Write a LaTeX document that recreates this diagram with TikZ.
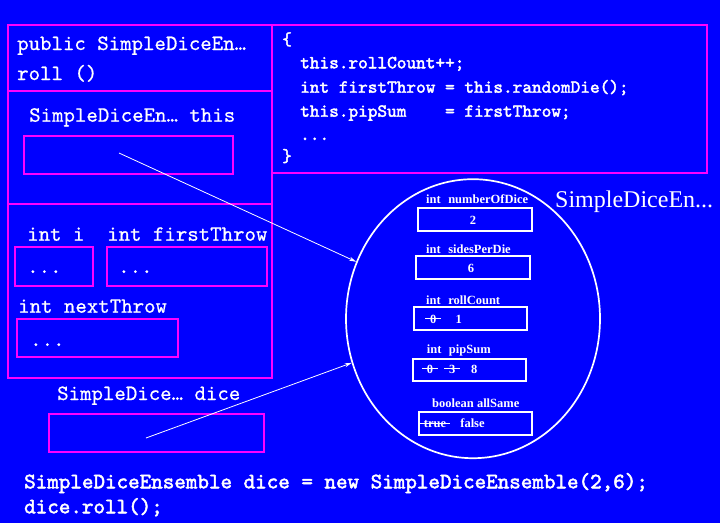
\documentclass[tikz,border=0pt]{standalone}
\usepackage{fontspec}
\newfontfamily\timesfont{Liberation Serif}
\newfontfamily\plaintt{lmmono10-regular.otf}[FakeBold=0.6]
\newfontfamily\heavytt{lmmono10-regular.otf}[FakeBold=2.2]
\usetikzlibrary{shapes.geometric,arrows.meta}

\definecolor{slideblue}{RGB}{0,0,255}
\definecolor{framepink}{RGB}{255,0,255}

\tikzset{
  frame/.style={draw=framepink, line width=2pt, inner sep=0pt, outer sep=0pt, anchor=north west},
  field/.style={draw=white, line width=1.3pt, inner sep=0pt, outer sep=0pt, anchor=north west},
  monotext/.style={text=white, inner sep=0pt, anchor=base west, font=\fontsize{21.8}{26}\plaintt},
  boldmono/.style={text=white, inner sep=0pt, anchor=base west, font=\fontsize{22}{26}\heavytt},
  codetext/.style={text=white, inner sep=0pt, anchor=base west, font=\fontsize{18.4}{22}\heavytt},
  fieldname/.style={text=white, inner sep=0pt, anchor=base west, font=\fontsize{12.5}{14}\timesfont\bfseries},
  fieldval/.style={text=white, inner sep=0pt, anchor=base, font=\fontsize{12.5}{14}\timesfont\bfseries},
  oldval/.style={fieldval, inner xsep=4.5pt},
  strike/.style={draw=white, line width=1pt},
  pointer/.style={draw=white, line width=0.8pt, -{Stealth[length=7pt,width=4pt]}}
}

\begin{document}
\begin{tikzpicture}[x=1pt, y=-1pt]
		%%%%% BACKGROUND %%%%%
		\fill[slideblue] (0,0) rectangle (720,523);
		\useasboundingbox (0,0) rectangle (720,523);
		
		%%%%% STACK FRAME %%%%%
		\node[frame, minimum width=264pt, minimum height=66pt] (head) at (8,25) {};
		\node[frame, minimum width=264pt, minimum height=113pt] (thisframe) at (8,91) {};
		\node[frame, minimum width=264pt, minimum height=174pt] (locals) at (8,204) {};
		\node[frame, minimum width=435pt, minimum height=148pt] (codebox) at (272,25) {};
		
		\node[monotext] (headline) at (17,50) {public SimpleDiceEn…};
		\node[monotext] (rollline) at (17,80) {roll ()};
		
		\node[monotext] (thislabel) at (29,121.7) {SimpleDiceEn… this};
		\node[frame, minimum width=209pt, minimum height=38pt] (thisbox) at (24,136) {};
		
		\node[monotext] (ilabel) at (27,240.7) {int i};
		\node[monotext] (firstlabel) at (107,240.7) {int firstThrow};
		\node[frame, minimum width=78pt, minimum height=39pt] (ibox) at (15,247) {};
		\node[frame, minimum width=160pt, minimum height=39pt] (firstbox) at (107,247) {};
		\node[monotext] (idots) at (27,273) {...};
		\node[monotext] (firstdots) at (118,273) {...};
		
		\node[monotext] (nextlabel) at (18,312.7) {int nextThrow};
		\node[frame, minimum width=161pt, minimum height=38pt] (nextbox) at (17,319) {};
		\node[monotext] (nextdots) at (30,346) {...};
		
		\node[monotext] (dicelabel) at (57,400) {SimpleDice… dice};
		\node[frame, minimum width=215pt, minimum height=38pt] (dicebox) at (49,414) {};
		
		%%%%% METHOD BODY %%%%%
		\node[codetext] (open) at (282,45) {\{};
		\node[codetext] (line1) at (300,68.3) {this.rollCount++;};
		\node[codetext] (line2) at (300,92.7) {int firstThrow = this.randomDie();};
		\node[codetext] (line3) at (300,116.7) {this.pipSum\ \ \ \ = firstThrow;};
		\node[codetext] (line4) at (300,140) {...};
		\node[codetext] (close) at (282,161.7) {\}};
		
		%%%%% OBJECT %%%%%
		\node[draw=white, line width=1.7pt, ellipse, minimum width=254pt, minimum height=279pt, inner sep=0pt] (obj) at (473,318.7) {};
		\node[text=white, inner sep=0pt, anchor=base west, font=\fontsize{24}{28}\timesfont] (objtype) at (555,207.3) {SimpleDiceEn...};
		
		\node[fieldname] (numlabel) at (426,203) {int\hspace{0.6em}numberOfDice};
		\node[field, minimum width=114pt, minimum height=23pt] (numbox) at (418,208) {};
		\node[fieldval] (num) at (473,224) {2};
		
		\node[fieldname] (sideslabel) at (426,253) {int\hspace{0.6em}sidesPerDie};
		\node[field, minimum width=114pt, minimum height=23pt] (sidesbox) at (416,256) {};
		\node[fieldval] (sides) at (471,272) {6};
		
		\node[fieldname] (rolllabel) at (426,304) {int\hspace{0.6em}rollCount};
		\node[field, minimum width=113pt, minimum height=23pt] (rollbox) at (414,307) {};
		\node[oldval] (roll0) at (433.3,323) {0};
		\node[fieldval] (roll1) at (458.7,323) {1};
		\draw[strike] (roll0.west) -- (roll0.east);
		
		\node[fieldname] (piplabel) at (426.7,353) {int\hspace{0.6em}pipSum};
		\node[field, minimum width=113pt, minimum height=22pt] (pipbox) at (413,359) {};
		\node[oldval] (pip0) at (430,373) {0};
		\node[oldval] (pip3) at (452.3,373) {3};
		\node[fieldval] (pip8) at (474.3,373) {8};
		\draw[strike] (pip0.west) -- (pip0.east);
		\draw[strike] (pip3.west) -- (pip3.east);
		
		\node[fieldname] (samelabel) at (432,407) {boolean allSame};
		\node[field, minimum width=113pt, minimum height=23pt] (samebox) at (419,412) {};
		\node[oldval, inner xsep=4pt] (sametrue) at (435,427) {true};
		\node[fieldval] (samefalse) at (472.5,427) {false};
		\draw[strike] (sametrue.west) -- (sametrue.east);
		
		%%%%% REFERENCES %%%%%
		\coordinate (thisref) at (119,153);
		\coordinate (diceref) at (146,438);
		\draw[pointer] (thisref) -- (obj.154);
		\draw[pointer] (diceref) -- (obj.200);
		
		%%%%% CALLER %%%%%
		\node[boldmono] (call1) at (24,488.3) {SimpleDiceEnsemble dice = new SimpleDiceEnsemble(2,6);};
		\node[boldmono] (call2) at (24,513.3) {dice.roll();};
		
		%%%%% END %%%%%
	\end{tikzpicture}
\end{document}
